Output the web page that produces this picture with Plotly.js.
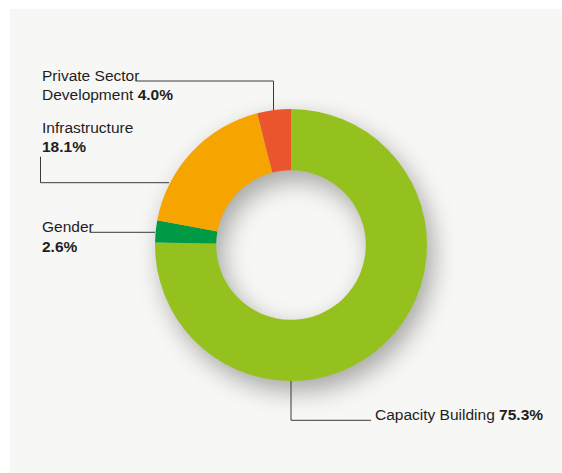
<!DOCTYPE html>
<html>
<head>
<meta charset="utf-8">
<script src="https://cdn.plot.ly/plotly-3.0.1.min.js"></script>
<style>
  html, body { margin: 0; padding: 0; background: #ffffff; }
  #chart { width: 562px; height: 473px; }
  .pielayer .trace { filter: drop-shadow(6px 10px 12px rgba(0,0,0,0.33)); }
</style>
</head>
<body>
<div id="chart"></div>
<script>
// ---- data ----
var categories = ['Capacity Building', 'Gender', 'Infrastructure', 'Private Sector Development'];
var values = [75.3, 2.6, 18.1, 4.0];
var colors = ['#95c11f', '#009a44', '#f6a500', '#ea552d'];
// label text lines per category ({v} = value)
var labelLines = [
  ['Capacity Building {v}'],
  ['Gender', '{v}'],
  ['Infrastructure', '{v}'],
  ['Private Sector', 'Development {v}']
];

// ---- layout helpers (pixel positions) ----
var W = 562, H = 473;
var cx = 291, cy = 245, R = 136;
var labelPos = [
  {x: 373, base: [421]},
  {x: 40, base: [232.7, 252.3]},
  {x: 40, base: [133.3, 152.3]},
  {x: 40, base: [81.7, 100.7]}
];
var leaders = [
  'M291,381 V420.3 H371',
  'M89.6,232.3 H155',
  'M40.5,156.7 V182.7 H169',
  'M135.5,81 H273.5 V110'
];

var FONT = '"Liberation Sans", Arial, sans-serif';
var FS = 15.5;

var annotations = [];
categories.forEach(function (c, i) {
  labelLines[i].forEach(function (ln, j) {
    var t = ln.replace('{v}', '<b>' + values[i].toFixed(1) + '%</b>');
    annotations.push({
      x: labelPos[i].x, y: labelPos[i].base[j] + 0.21 * FS + 1,
      xref: 'x', yref: 'y', xanchor: 'left', yanchor: 'bottom',
      text: t, showarrow: false, align: 'left',
      font: {family: FONT, size: FS, color: '#1e1e1e'}
    });
  });
});

var shapes = [{
  type: 'rect', xref: 'x', yref: 'y', x0: 10, x1: 562, y0: 9, y1: 473,
  fillcolor: '#f7f7f5', line: {width: 0}, layer: 'below'
}];
leaders.forEach(function (p) {
  shapes.push({type: 'path', xref: 'x', yref: 'y', path: p,
    line: {color: '#3a3a3a', width: 1}, layer: 'above'});
});

var trace = {
  type: 'pie',
  labels: categories,
  values: values,
  marker: {colors: colors, line: {width: 0}},
  hole: 0.55,
  sort: false,
  direction: 'clockwise',
  rotation: 0,
  textinfo: 'none',
  hoverinfo: 'none',
  domain: {x: [(cx - R) / W, (cx + R) / W], y: [1 - (cy + R) / H, 1 - (cy - R) / H]}
};

var layout = {
  width: W, height: H,
  margin: {l: 0, r: 0, t: 0, b: 0, pad: 0},
  paper_bgcolor: '#ffffff',
  plot_bgcolor: 'rgba(0,0,0,0)',
  showlegend: false,
  xaxis: {range: [0, W], visible: false, fixedrange: true},
  yaxis: {range: [H, 0], visible: false, fixedrange: true},
  shapes: shapes,
  annotations: annotations
};

Plotly.newPlot('chart', [trace], layout, {displayModeBar: false, staticPlot: true});
</script>
</body>
</html>
